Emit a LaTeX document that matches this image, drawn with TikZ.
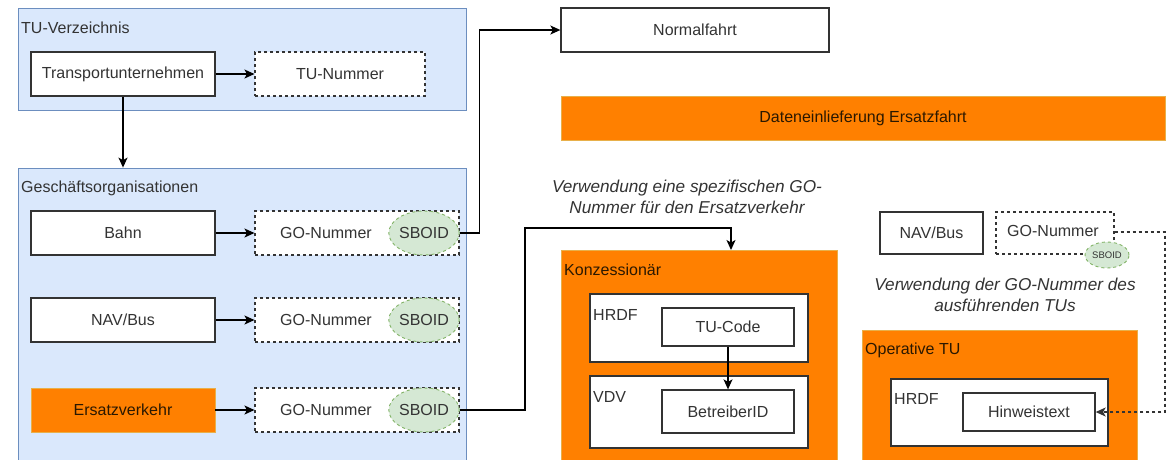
\documentclass[tikz,border=0pt]{standalone}
\usepackage{fontspec}
\setmainfont{Liberation Sans}
\usetikzlibrary{arrows.meta,shapes.geometric,calc}
\definecolor{bluefill}{HTML}{DAE8FC}
\definecolor{bluedraw}{HTML}{6C8EBF}
\definecolor{orfill}{HTML}{FF8000}
\definecolor{ordraw}{HTML}{E8B04A}
\definecolor{grfill}{HTML}{D5E8D4}
\definecolor{grdraw}{HTML}{82B366}
\definecolor{boxdraw}{HTML}{333333}
\definecolor{txt}{HTML}{333333}
\definecolor{ortxt}{HTML}{2A1800}
\tikzset{
  basefont/.style={font=\fontsize{16}{20}\selectfont, text=txt},
  plainbox/.style={draw=boxdraw, fill=white, line width=1.3pt, inner sep=0pt, basefont},
  dashbox/.style={draw=boxdraw, fill=white, line width=1.1pt, dash pattern=on 3pt off 3pt, inner sep=0pt, basefont},
  contbox/.style={draw=bluedraw, fill=bluefill, line width=0.8pt, inner sep=0pt},
  orangebox/.style={draw=ordraw, fill=orfill, line width=0.6pt, inner sep=0pt, basefont, text=ortxt},
  sboid/.style={ellipse, draw=grdraw, fill=grfill, line width=0.9pt, dash pattern=on 3pt off 3pt, inner sep=0pt, basefont},
  lbl/.style={anchor=west, inner sep=0pt, basefont},
  orlbl/.style={anchor=west, inner sep=0pt, basefont, text=ortxt},
  note/.style={align=center, inner sep=0pt, font=\fontsize{17.2}{21}\selectfont\itshape, text=txt},
  conn/.style={draw=black, line width=1.3pt, -{Stealth[length=10pt,width=9pt,inset=2.5pt]}},
  dconn/.style={draw=boxdraw, line width=1.2pt, dash pattern=on 3pt off 3pt, -{Stealth[length=10pt,width=9pt,inset=2.5pt]}}
}
\begin{document}
\begin{tikzpicture}[x=1pt,y=-1pt]
\useasboundingbox (0,0) rectangle (1174,459);

% ---------- TU-Verzeichnis ----------
\node[contbox, minimum width=448pt, minimum height=102pt] (tuv) at (242,59) {};
\node[lbl] (tuvlbl) at (21,28) {TU-Verzeichnis};
\node[plainbox, minimum width=184pt, minimum height=44pt] (tu) at (123,74) {Transportunternehmen};
\node[dashbox, minimum width=170pt, minimum height=44pt] (tunr) at (340,74) {TU-Nummer};
\draw[conn] (tu.east) -- (tunr.west);

% ---------- Geschäftsorganisationen ----------
\node[contbox, minimum width=448pt, minimum height=300pt] (geo) at (242,318) {};
\node[lbl] (geolbl) at (21,188) {Geschäftsorganisationen};
\draw[conn] (tu.south) -- (tu.south |- geo.north);

\node[plainbox, minimum width=184pt, minimum height=44pt] (bahn) at (123,233) {Bahn};
\node[dashbox, minimum width=204pt, minimum height=44pt] (go1) at (357,233) {};
\node[basefont, inner sep=0pt] (go1t) at (326,233) {GO-Nummer};
\node[sboid, minimum width=66pt, minimum height=44pt] (sb1) at (424,233) {SBOID};

\node[plainbox, minimum width=184pt, minimum height=44pt] (nav) at (123,320) {NAV/Bus};
\node[dashbox, minimum width=204pt, minimum height=44pt] (go2) at (357,320) {};
\node[basefont, inner sep=0pt] (go2t) at (326,320) {GO-Nummer};
\node[sboid, minimum width=66pt, minimum height=44pt] (sb2) at (424,320) {SBOID};

\node[orangebox, minimum width=184pt, minimum height=44pt] (ev) at (123,410) {Ersatzverkehr};
\node[dashbox, minimum width=204pt, minimum height=44pt] (go3) at (357,410) {};
\node[basefont, inner sep=0pt] (go3t) at (326,410) {GO-Nummer};
\node[sboid, minimum width=66pt, minimum height=44pt] (sb3) at (424,410) {SBOID};

\draw[conn] (bahn.east) -- (go1.west);
\draw[conn] (nav.east) -- (go2.west);
\draw[conn] (ev.east) -- (go3.west);

% ---------- Normalfahrt ----------
\node[plainbox, minimum width=268pt, minimum height=44pt] (normal) at (695,30) {Normalfahrt};
\draw[conn] (go1.east) -- ++(20,0) |- (normal.west);

% ---------- Dateneinlieferung ----------
\node[orangebox, minimum width=604pt, minimum height=44pt] (daten) at (863,118) {Dateneinlieferung Ersatzfahrt};

% ---------- Konzessionär ----------
\node[note] (note1) at (687,197) {Verwendung eine spezifischen GO-\\Nummer für den Ersatzverkehr};
\node[orangebox, minimum width=276pt, minimum height=215pt] (konz) at (699,357.5) {};
\node[orlbl] (konzlbl) at (564,270) {Konzessionär};
\node[plainbox, minimum width=218pt, minimum height=68pt] (hrdf1) at (699,328) {};
\node[lbl] (hrdf1lbl) at (593,315) {HRDF};
\node[plainbox, minimum width=132pt, minimum height=38pt] (tucode) at (728,327) {TU-Code};
\node[plainbox, minimum width=218pt, minimum height=72pt] (vdv) at (699,412) {};
\node[lbl] (vdvlbl) at (593,397) {VDV};
\node[plainbox, minimum width=132pt, minimum height=43pt] (betr) at (728,411.5) {BetreiberID};
\draw[conn] (tucode.south) -- (betr.north);

\coordinate (ktop) at (731,250);
\draw[conn] (go3.east) -| (525,228) -| (ktop);

% ---------- Operative TU ----------
\node[plainbox, minimum width=103pt, minimum height=42pt] (nav2) at (931.5,233) {NAV/Bus};
\node[dashbox, minimum width=118pt, minimum height=42pt] (go4) at (1055,233) {};
\node[basefont, inner sep=0pt] (go4t) at (1053,231) {GO-Nummer};
\node[sboid, minimum width=44pt, minimum height=26pt, font=\fontsize{9.5}{11}\selectfont] (sb4) at (1107,255) {SBOID};
\node[note] (note2) at (1005,295) {Verwendung der GO-Nummer des\\ausführenden TUs};

\node[orangebox, minimum width=275pt, minimum height=134pt] (optu) at (999.5,397) {};
\node[orlbl] (optulbl) at (865,350) {Operative TU};
\node[plainbox, minimum width=217pt, minimum height=67pt] (hrdf2) at (999.5,412.5) {};
\node[lbl] (hrdf2lbl) at (894,399) {HRDF};
\node[plainbox, minimum width=132pt, minimum height=38pt] (hinw) at (1029,412) {Hinweistext};

\coordinate (dcorner) at (1165,232);
\draw[dconn] (go4.east |- dcorner) -- (dcorner) |- (hinw.east);
\end{tikzpicture}
\end{document}
